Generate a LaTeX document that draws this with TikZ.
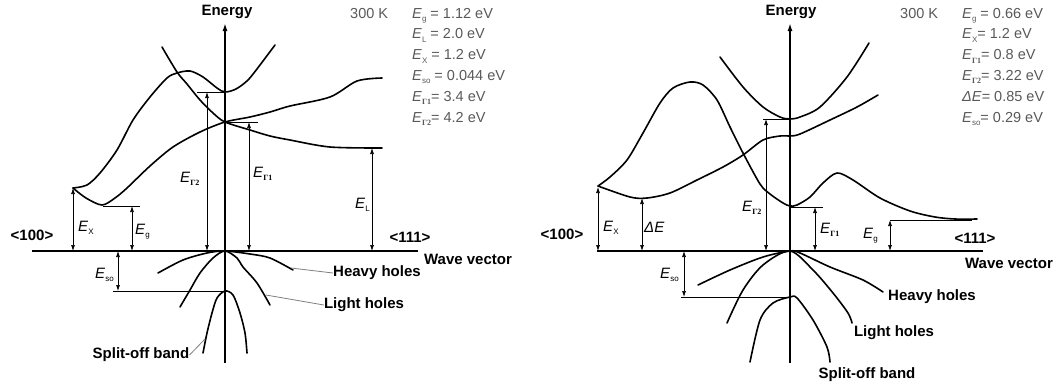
\documentclass[tikz,border=0pt]{standalone}
\usepackage{fontspec}
\setmainfont{Liberation Sans}
\newfontfamily\grkfont{Liberation Serif}
\usetikzlibrary{arrows.meta}

\newcommand\lo[1]{\raisebox{-3.5pt}{\fontsize{8}{8}\selectfont #1}}
\newcommand\En[1]{\textit{E}\lo{#1}}
\newcommand\Gm[1]{{\grkfont\bfseries Γ#1}}

\tikzset{
  band/.style={line width=1.6pt, line join=round, line cap=round},
  axis/.style={line width=1.8pt},
  lvl/.style={line width=0.7pt},
  gap/.style={line width=0.7pt, {Latex[length=6pt,width=4pt]}-{Latex[length=6pt,width=4pt]}},
  lead/.style={gray, line width=0.8pt},
  lab/.style={font=\fontsize{15}{15}\selectfont\bfseries, inner sep=0pt},
  elab/.style={font=\fontsize{15}{15}\selectfont, inner sep=0pt, anchor=base west},
  par/.style={font=\fontsize{14.5}{14.5}\selectfont, text=black!65, inner sep=0pt, anchor=base west},
}

\begin{document}
\begin{tikzpicture}[x=1pt,y=-1pt]
  \useasboundingbox (0,0) rectangle (1059,389);

  % silicon
  \draw[axis,-{Latex[length=8pt,width=5pt]}] (225,363) -- (225,23);
  \draw[axis] (32,251) -- (418,251);
  \node[lab] (en1) at (227,12) {Energy};
  \node[lab] (d1) at (32,235) {<100>};
  \node[lab] (w1) at (410,237) {<111>};
  \node[lab] (wv1) at (468,259) {Wave vector};
  \node[lab] (hh1) at (377,273) {Heavy holes};
  \node[lab] (lh1) at (364,305) {Light holes};
  \node[lab] (so1) at (141,355) {Split-off band};

  \draw[band] plot[smooth] coordinates {(162,47) (177,72) (187,84) (200,100) (213,113) (225,122)
    (250,130) (270,136) (290,140) (330,147) (382,148)};
  \draw[band] plot[smooth] coordinates {(73,188) (87,185) (100,173) (117,150) (133,120) (150,97)
    (167,78) (177,73) (190,71) (203,77) (217,88) (225,92) (236,89) (248,80) (260,65) (275,45)};
  \draw[band] plot[smooth] coordinates {(73,188) (86,198) (102,205) (115,198) (127,188) (150,166)
    (173,147) (200,132) (225,122) (250,117) (270,112) (290,106) (330,97) (357,81) (382,78)};
  \draw[band] plot[smooth] coordinates {(158,273) (183,260) (207,253) (225,251) (250,254) (270,258) (293,270)};
  \draw[band] plot[smooth] coordinates {(180,307) (190,290) (200,273) (213,258) (225,251) (237,258)
    (243,267) (257,283) (270,305)};
  \draw[band] plot[smooth] coordinates {(203,353) (207,333) (212,313) (217,298) (225,291) (233,295)
    (240,313) (245,333) (247,353)};

  \draw[lvl] (197,92) -- (225,92);
  \draw[lvl] (225,122) -- (258,122);
  \draw[lvl] (103,206) -- (140,206);
  \draw[lvl] (113,291) -- (225,291);
  \foreach \x/\y in {73/188, 132/206, 207/92, 249/122, 372/148, 118/291}
    \draw[gap] (\x,251) -- (\x,\y);

  \node[elab] (ex1) at (78,231) {\En{X}};
  \node[elab] (eg1) at (135,234) {\En{g}};
  \node[elab] (ea1) at (180,182) {\En{\Gm{2}}};
  \node[elab] (eb1) at (253,177) {\En{\Gm{1}}};
  \node[elab] (el1) at (355,208) {\En{L}};
  \node[elab] (es1) at (95,278) {\En{so}};

  \draw[lead] (hh1.west) -- (291,268);
  \draw[lead] (lh1.west) -- (266,295);
  \draw[lead] (so1.east) -- (205,339);

  \node[par] (t1) at (350,18) {300 K};
  \foreach \t [count=\i] in {{\En{g} = 1.12 eV}, {\En{L} = 2.0 eV}, {\En{X} = 1.2 eV},
      {\En{so} = 0.044 eV}, {\En{\Gm{1}}= 3.4 eV}, {\En{\Gm{2}}= 4.2 eV}}
    \node[par] (pa\i) at (412,{18+20.8*(\i-1)}) {\t};

  % germanium
  \draw[axis,-{Latex[length=8pt,width=5pt]}] (790,363) -- (790,23);
  \draw[axis] (597,251) -- (983,251);
  \node[lab] (en2) at (791,12) {Energy};
  \node[lab] (d2) at (562,234) {<100>};
  \node[lab] (w2) at (975,238) {<111>};
  \node[lab] (wv2) at (1009,263) {Wave vector};
  \node[lab] (hh2) at (932,297) {Heavy holes};
  \node[lab] (lh2) at (894,333) {Light holes};
  \node[lab] (so2) at (867,375) {Split-off band};

  \draw[band] plot[smooth] coordinates {(720,57) (743,87) (763,107) (780,117) (790,119) (800,117)
    (820,107) (847,77) (869,43)};
  \draw[band] plot[smooth] coordinates {(598,186) (630,197) (647,198) (670,193) (697,180) (723,167)
    (743,155) (763,140) (780,136) (790,136) (800,134) (830,120) (857,107) (878,95)};
  \draw[band] plot[smooth] coordinates {(598,186) (610,177) (627,160) (643,133) (660,103) (673,88)
    (690,82) (703,85) (717,100) (730,127) (743,153) (760,184) (770,194) (783,203) (790,206)
    (797,205) (810,197) (823,183) (837,173) (853,180) (880,198) (910,211) (935,217) (955,219) (977,219)};
  \draw[band] plot[smooth] coordinates {(698,285) (730,270) (763,257) (790,251) (800,253) (830,267)
    (863,280) (883,292)};
  \draw[band] plot[smooth] coordinates {(727,323) (743,290) (763,265) (790,251) (813,270) (833,293)
    (848,313) (852,323)};
  \draw[band] plot[smooth] coordinates {(750,362) (760,320) (773,303) (790,297) (797,298) (813,320)
    (827,347) (830,362)};

  \draw[lvl] (763,119) -- (790,119);
  \draw[lvl] (790,207) -- (823,207);
  \draw[lvl] (890,220) -- (972,220);
  \draw[lvl] (681,297) -- (790,297);
  \foreach \x/\y in {598/187, 642/198, 766/119, 815/207, 890/220, 684/297}
    \draw[gap] (\x,251) -- (\x,\y);

  \node[elab] (ex2) at (603,231) {\En{X}};
  \node[elab] (de2) at (644,232) {\textit{ΔE}};
  \node[elab] (ea2) at (742,211) {\En{\Gm{2}}};
  \node[elab] (es2) at (660,278) {\En{so}};
  \node[elab] (eb2) at (820,233) {\En{\Gm{1}}};
  \node[elab] (eg2) at (863,238) {\En{g}};

  \node[par] (t2) at (900,18) {300 K};
  \foreach \t [count=\i] in {{\En{g} = 0.66 eV}, {\En{X}= 1.2 eV}, {\En{\Gm{1}}= 0.8 eV},
      {\En{\Gm{2}}= 3.22 eV}, {\textit{ΔE}= 0.85 eV}, {\En{so}= 0.29 eV}}
    \node[par] (pb\i) at (962,{18+20.8*(\i-1)}) {\t};
\end{tikzpicture}
\end{document}
